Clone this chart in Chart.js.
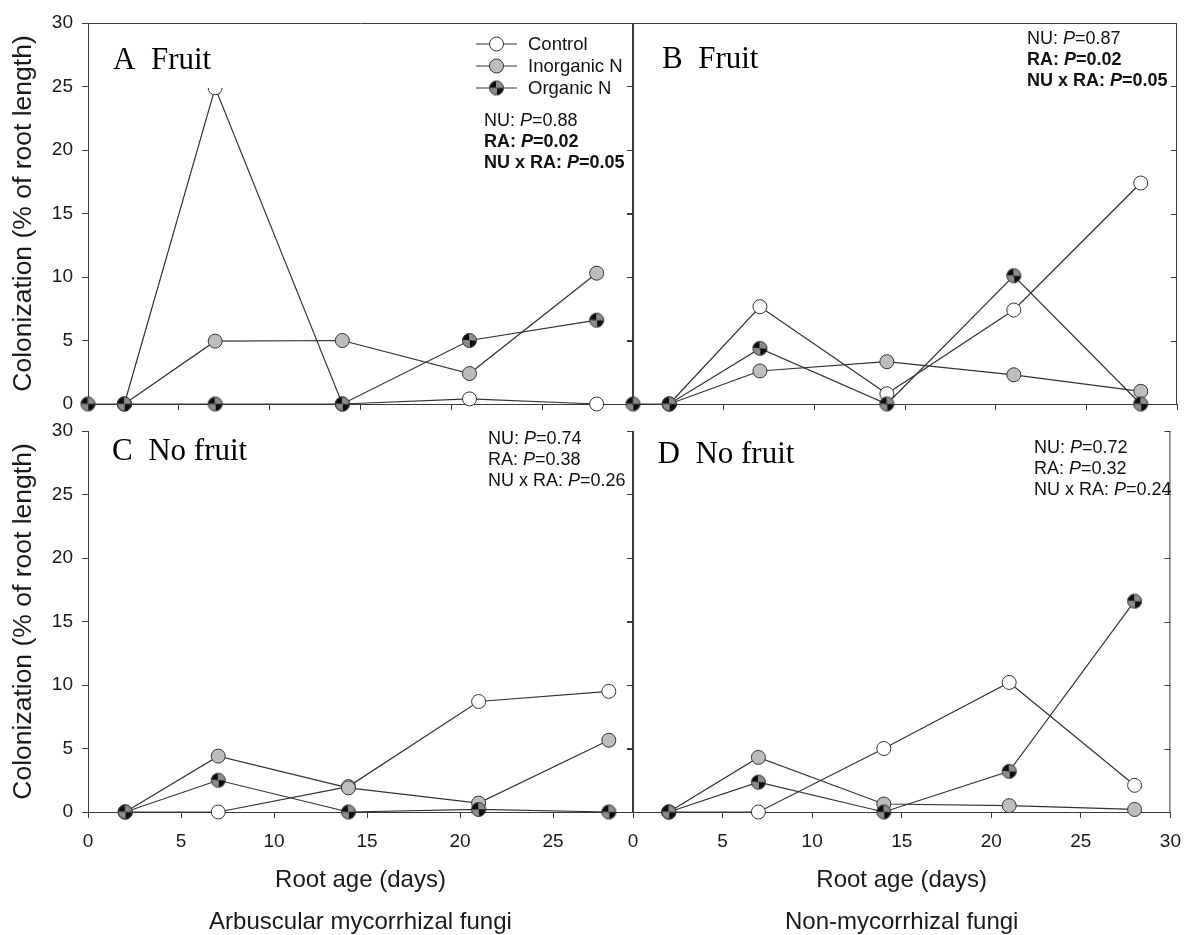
<!DOCTYPE html>
<html>
<head>
<meta charset="utf-8">
<script src="https://cdn.jsdelivr.net/npm/chart.js@4.4.0/dist/chart.umd.min.js"></script>
<style>
  html, body { margin: 0; padding: 0; background: #fff; overflow: hidden; width: 1193px; height: 935px; }
  canvas.panel { position: absolute; }
</style>
</head>
<body>
<canvas id="panelA" class="panel"></canvas>
<canvas id="panelC" class="panel"></canvas>
<canvas id="panelB" class="panel"></canvas>
<canvas id="panelD" class="panel"></canvas>
<script>
// Root age at each sampling (days)
const days = [0, 2, 7, 14, 21, 28];
const seriesNames = ['Control', 'Inorganic N', 'Organic N'];
const effectTerms = ['NU', 'RA', 'NU x RA'];

// A: arbuscular mycorrhizal fungi, fruit
const controlA   = [null, 0, 24.9, 0, 0.4, 0];
const inorganicA = [null, 0, 4.95, 5.0, 2.4, 10.3];
const organicA   = [0, 0, 0, 0, 5.0, 6.6];
// B: non-mycorrhizal fungi, fruit
const controlB   = [null, 0, 7.66, 0.8, 7.4, 17.4];
const inorganicB = [null, 0, 2.6, 3.33, 2.3, 1.0];
const organicB   = [0, 0, 4.38, 0, 10.1, 0];
// C: arbuscular mycorrhizal fungi, no fruit
const controlC   = [null, 0, 0, 2.0, 8.7, 9.5];
const inorganicC = [null, 0, 4.4, 1.9, 0.7, 5.65];
const organicC   = [null, 0, 2.5, 0, 0.2, 0];
// D: non-mycorrhizal fungi, no fruit
const controlD   = [null, 0, 0, 5.0, 10.2, 2.1];
const inorganicD = [null, 0, 4.3, 0.63, 0.5, 0.2];
const organicD   = [null, 0, 2.35, 0, 3.2, 16.6];

// ANOVA P values (NU, RA, NU x RA) and which are significant
const pValuesA = ['0.88', '0.02', '0.05']; const boldA = [false, true, true];
const pValuesB = ['0.87', '0.02', '0.05']; const boldB = [false, true, true];
const pValuesC = ['0.74', '0.38', '0.26']; const boldC = [false, false, false];
const pValuesD = ['0.72', '0.32', '0.24']; const boldD = [false, false, false];

const AXIS = '#3a3a3a';
const LINE = '#333333';
const GRAY_FILL = '#bdbdbd';
const Q_DARK = '#0d0d0d';
const Q_LIGHT = '#8c8c8c';
const SANS = "'Liberation Sans', Arial, Helvetica, sans-serif";
const SERIF = "'Liberation Serif', 'Times New Roman', serif";
const R = 7;

// quartered symbol for the organic N series
function quarteredMarker(r) {
  const s = Math.ceil(2 * r + 3);
  const c = document.createElement('canvas');
  c.width = s; c.height = s;
  const g = c.getContext('2d');
  const cx = s / 2, cy = s / 2;
  const quads = [
    [Math.PI, 1.5 * Math.PI, Q_DARK],      // top-left
    [1.5 * Math.PI, 2 * Math.PI, Q_LIGHT], // top-right
    [0, 0.5 * Math.PI, Q_DARK],            // bottom-right
    [0.5 * Math.PI, Math.PI, Q_LIGHT]      // bottom-left
  ];
  for (const [a0, a1, col] of quads) {
    g.beginPath(); g.moveTo(cx, cy); g.arc(cx, cy, r, a0, a1); g.closePath();
    g.fillStyle = col; g.fill();
  }
  g.beginPath(); g.arc(cx, cy, r, 0, 2 * Math.PI);
  g.strokeStyle = LINE; g.lineWidth = 1; g.stroke();
  return c;
}
const organicSymbol = quarteredMarker(R);

function toPoints(vals) {
  return days.map((d, i) => ({ x: d, y: vals[i] }));
}

function buildDatasets(ctrl, inorg, org) {
  const common = {
    borderColor: LINE, borderWidth: 1.2, pointBorderColor: LINE, pointBorderWidth: 1,
    pointRadius: R, pointHoverRadius: R, tension: 0, clip: false, spanGaps: false, fill: false
  };
  return [
    Object.assign({}, common, { label: seriesNames[2], data: toPoints(org), pointStyle: organicSymbol, order: 0 }),
    Object.assign({}, common, { label: seriesNames[1], data: toPoints(inorg), pointStyle: 'circle', pointBackgroundColor: GRAY_FILL, order: 1 }),
    Object.assign({}, common, { label: seriesNames[0], data: toPoints(ctrl), pointStyle: 'circle', pointBackgroundColor: '#ffffff', order: 2 })
  ];
}

function drawRuns(ctx, runs, x, y, size) {
  for (const r of runs) {
    ctx.font = (r.i ? 'italic ' : '') + (r.b ? 'bold ' : '') + size + 'px ' + SANS;
    ctx.fillText(r.t, x, y);
    x += ctx.measureText(r.t).width;
  }
}

function drawSymbol(ctx, kind, x, y) {
  if (kind === 2) {
    ctx.drawImage(organicSymbol, x - organicSymbol.width / 2, y - organicSymbol.height / 2);
    return;
  }
  ctx.beginPath(); ctx.arc(x, y, R, 0, 2 * Math.PI);
  ctx.fillStyle = kind === 1 ? GRAY_FILL : '#ffffff'; ctx.fill();
  ctx.strokeStyle = LINE; ctx.lineWidth = 1; ctx.stroke();
}

// frame, panel label, statistics and legend
const panelDecor = {
  id: 'panelDecor',
  afterDatasetsDraw(chart, args, o) {
    const { ctx, chartArea: a } = chart;
    const ys = chart.scales.y;
    ctx.save();
    ctx.strokeStyle = AXIS; ctx.lineWidth = 1;
    ctx.beginPath();
    if (o.topBorder) { ctx.moveTo(a.left, a.top + 0.5); ctx.lineTo(a.right, a.top + 0.5); }
    ctx.moveTo(a.right - 0.5, a.top); ctx.lineTo(a.right - 0.5, a.bottom);
    ys.ticks.forEach(t => {
      const py = Math.round(ys.getPixelForValue(t.value)) + 0.5;
      ctx.moveTo(a.right, py); ctx.lineTo(a.right - 6, py);
    });
    ctx.stroke();

    // panel label on a white box
    const lx = a.left + o.labelPos[0], ly = a.top + o.labelPos[1];
    ctx.font = '31px ' + SERIF;
    const lw = ctx.measureText(o.label).width;
    ctx.fillStyle = '#ffffff';
    ctx.fillRect(lx - 8, ly - 33, Math.max(lw + 16, o.labelBoxW || 0), 52);
    ctx.fillStyle = '#000000';
    ctx.textBaseline = 'alphabetic'; ctx.textAlign = 'left';
    ctx.fillText(o.label, lx, ly);

    // statistics
    ctx.textBaseline = 'middle';
    ctx.fillStyle = '#111111';
    o.pValues.forEach((p, i) => {
      const b = o.bold[i];
      const runs = [{ t: effectTerms[i] + ': ', b }, { t: 'P', b, i: true }, { t: '=' + p, b }];
      drawRuns(ctx, runs, a.left + o.statsPos[0], a.top + o.statsPos[1] + i * 20.8, 18);
    });

    // legend
    if (o.legend) {
      seriesNames.forEach((name, i) => {
        const y = a.top + o.legend[1] + i * 22;
        const x0 = a.left + o.legend[0];
        ctx.beginPath(); ctx.moveTo(x0, y); ctx.lineTo(x0 + 41, y);
        ctx.strokeStyle = LINE; ctx.lineWidth = 1.2; ctx.stroke();
        drawSymbol(ctx, i, x0 + 20.5, y);
        ctx.fillStyle = '#111111';
        ctx.font = '18.5px ' + SANS;
        ctx.fillText(name, x0 + 52, y + 1);
      });
    }
    ctx.restore();
  }
};

const tickFont = { family: SANS, size: 19 };

function makePanel(id, p) {
  const cv = document.getElementById(id);
  cv.width = p.w; cv.height = p.h;
  cv.style.left = p.left + 'px'; cv.style.top = p.top + 'px';
  return new Chart(cv, {
    type: 'line',
    data: { datasets: buildDatasets(p.ctrl, p.inorg, p.org) },
    options: {
      responsive: false, animation: false, events: [],
      layout: { padding: { left: 0, top: p.padTop, right: p.padRight, bottom: 0 } },
      plugins: {
        legend: { display: false }, tooltip: { enabled: false },
        panelDecor: {
          topBorder: p.topBorder, label: p.label, labelPos: p.labelPos, labelBoxW: p.labelBoxW,
          pValues: p.pValues, bold: p.bold, statsPos: p.statsPos, legend: p.legend
        }
      },
      scales: {
        x: {
          type: 'linear', min: 0, max: p.xMax,
          afterFit: s => { s.height = p.xHeight; },
          ticks: { stepSize: 5, includeBounds: false, display: p.xLabels, font: tickFont, color: '#1a1a1a', padding: 12, maxRotation: 0 },
          grid: { drawOnChartArea: false, drawTicks: true, tickLength: 6, color: AXIS },
          border: { color: AXIS, width: 1 },
          title: p.xTitle ? { display: true, text: p.xTitle, font: { family: SANS, size: 24, lineHeight: 1.75 }, color: '#1a1a1a', padding: 0 } : { display: false }
        },
        y: {
          min: 0, max: 30,
          afterFit: s => { s.width = p.yWidth; },
          ticks: { stepSize: 5, display: p.yLabels, font: tickFont, color: '#1a1a1a', padding: 9 },
          grid: { drawOnChartArea: false, drawTicks: true, tickLength: 6, color: AXIS },
          border: { color: AXIS, width: 1 },
          title: p.yLabels ? { display: true, text: 'Colonization (% of root length)', font: { family: SANS, size: 26.5 }, color: '#1a1a1a', padding: { top: 8, bottom: 0 } } : { display: false }
        }
      }
    },
    plugins: [panelDecor]
  });
}

makePanel('panelA', {
  left: 0, top: 0, w: 650, h: 430, padTop: 23, padRight: 17, xHeight: 26, yWidth: 88,
  xMax: 30, xLabels: false, yLabels: true, topBorder: true,
  ctrl: controlA, inorg: inorganicA, org: organicA,
  label: 'A  Fruit', labelPos: [25, 46], labelBoxW: 128,
  pValues: pValuesA, bold: boldA, statsPos: [396, 98], legend: [388, 21]
});
makePanel('panelC', {
  left: 0, top: 410, w: 650, h: 533, padTop: 21, padRight: 17, xHeight: 131, yWidth: 88,
  xMax: 29.3, xLabels: true, yLabels: true, topBorder: false,
  xTitle: ['Root age (days)', 'Arbuscular mycorrhizal fungi'],
  ctrl: controlC, inorg: inorganicC, org: organicC,
  label: 'C  No fruit', labelPos: [24, 29],
  pValues: pValuesC, bold: boldC, statsPos: [400, 8]
});
makePanel('panelB', {
  left: 600, top: 0, w: 593, h: 430, padTop: 23, padRight: 16, xHeight: 26, yWidth: 33,
  xMax: 30, xLabels: false, yLabels: false, topBorder: true,
  ctrl: controlB, inorg: inorganicB, org: organicB,
  label: 'B  Fruit', labelPos: [29, 45],
  pValues: pValuesB, bold: boldB, statsPos: [394, 16]
});
makePanel('panelD', {
  left: 600, top: 410, w: 593, h: 533, padTop: 21, padRight: 16, xHeight: 131, yWidth: 33,
  xMax: 30, xLabels: true, yLabels: false, topBorder: false,
  xTitle: ['Root age (days)', 'Non-mycorrhizal fungi'],
  ctrl: controlD, inorg: inorganicD, org: organicD,
  label: 'D  No fruit', labelPos: [24.5, 32],
  pValues: pValuesD, bold: boldD, statsPos: [401, 17]
});
</script>
</body>
</html>
